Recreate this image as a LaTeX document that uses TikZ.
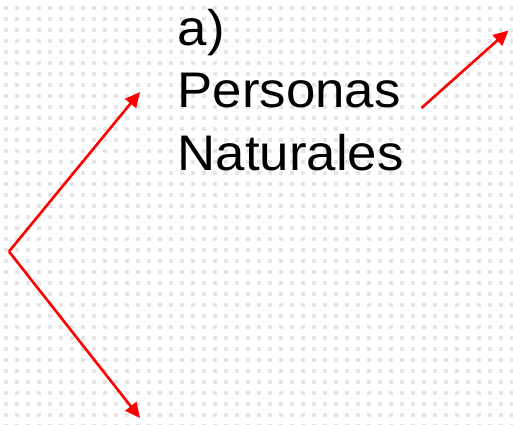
\documentclass[tikz,border=0pt]{standalone}
\usepackage{fontspec}
\setmainfont{Liberation Sans}
\newfontfamily\labelfont[FakeStretch=1.055]{Liberation Sans}
\usetikzlibrary{positioning}
\usetikzlibrary{arrows.meta}
\tikzset{>={Triangle[width=14bp,length=15bp]}}

\begin{document}
\begin{tikzpicture}[x=1bp, y=-1bp, textnode/.style={draw=none, fill=none, inner sep=0pt, align=left, font=\labelfont\fontsize{50.2}{62.7}\selectfont}, redline/.style={->, draw=red, line width=2.6bp}, griddot/.style={fill=black!10}]
    
    %Background
    \useasboundingbox (0,0) rectangle (513,424);
    \fill[white] (0,0) rectangle (513,424);
    \foreach \i in {0,...,46}
        \foreach \j in {0,...,38}
            \fill[griddot] (4+11*\i,6+11*\j) rectangle +(3.5,3.5);
    
    %Nodes
    \node[textnode, anchor=base west](personas) at (177.5,170){a)\\Personas\\Naturales};
    \coordinate (root) at (9,251.5);
    \coordinate (top_end) at (140,92);
    \coordinate (bottom_end) at (140,418);
    \coordinate (side_start) at (421.5,108);
    \coordinate (side_end) at (508.5,30.5);
    
    %Lines
    \draw[redline] (root) -- (top_end);
    \draw[redline] (root) -- (bottom_end);
    \draw[redline] (side_start) -- (side_end);
    
\end{tikzpicture}
\end{document}
